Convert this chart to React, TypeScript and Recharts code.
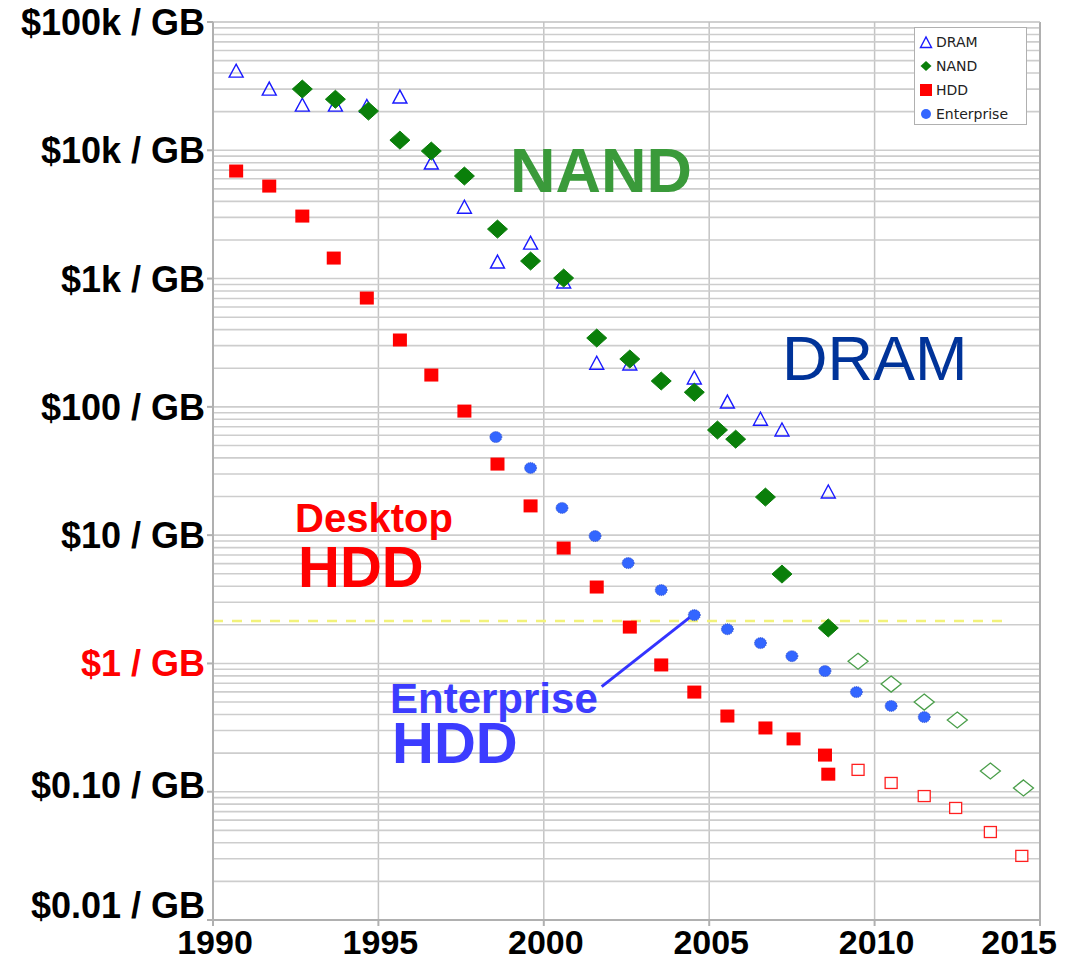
import React from "react";
import {
  ScatterChart,
  Scatter,
  XAxis,
  YAxis,
  CartesianGrid,
  ReferenceLine,
} from "recharts";

// price per GB
const dramYears = [1990.7, 1991.7, 1992.7, 1993.7, 1994.65, 1995.65, 1996.6, 1997.6, 1998.6, 1999.6, 2000.6, 2001.6, 2002.6, 2004.55, 2005.55, 2006.55, 2007.2, 2008.6];
const dramPrices = [41400, 30000, 22500, 22500, 22000, 26000, 7950, 3600, 1345, 1890, 940, 219, 216, 168, 109, 80, 66, 21.7];

const nandYears = [1992.7, 1993.7, 1994.7, 1995.65, 1996.6, 1997.6, 1998.6, 1999.6, 2000.6, 2001.6, 2002.6, 2003.55, 2004.55, 2005.25, 2005.8, 2006.7, 2007.2, 2008.6];
const nandPrices = [30000, 25000, 20200, 12000, 9860, 6300, 2430, 1370, 1010, 344, 236, 159, 130, 66, 56, 19.8, 4.97, 1.89];

const nandProjYears = [2009.5, 2010.5, 2011.5, 2012.5, 2013.5, 2014.5];
const nandProjPrices = [1.04, 0.69, 0.5, 0.362, 0.145, 0.107];

const hddYears = [1990.7, 1991.7, 1992.7, 1993.65, 1994.65, 1995.65, 1996.6, 1997.6, 1998.6, 1999.6, 2000.6, 2001.6, 2002.6, 2003.55, 2004.55, 2005.55, 2006.7, 2007.55, 2008.5, 2008.6];
const hddPrices = [6890, 5260, 3070, 1445, 705, 332, 177, 92.7, 35.8, 16.9, 7.93, 3.94, 1.92, 0.973, 0.598, 0.389, 0.314, 0.258, 0.193, 0.137];

const hddProjYears = [2009.5, 2010.5, 2011.5, 2012.45, 2013.5, 2014.45];
const hddProjPrices = [0.148, 0.117, 0.0925, 0.0747, 0.0485, 0.0316];

const entYears = [1998.55, 1999.6, 2000.55, 2001.55, 2002.55, 2003.55, 2004.55, 2005.55, 2006.55, 2007.5, 2008.5, 2009.45, 2010.5, 2011.5];
const entPrices = [58.2, 33.4, 16.3, 9.84, 6.06, 3.73, 2.38, 1.85, 1.44, 1.14, 0.873, 0.598, 0.466, 0.382];

const xTicks = [1990, 1995, 2000, 2005, 2010, 2015];
const yTicks = [0.01, 0.1, 1, 10, 100, 1000, 10000, 100000];
const yLabels = ["$0.01 / GB", "$0.10 / GB", "$1 / GB", "$10 / GB", "$100 / GB", "$1k / GB", "$10k / GB", "$100k / GB"];
// the two lowest labels sit a little above their ticks in the original
const yLabelShift = [-15, -7, 0, 0, 0, 0, 0, 0];

const oneDollarLine = 2.14;

const legendItems = [
  { name: "DRAM", kind: "tri" },
  { name: "NAND", kind: "dia" },
  { name: "HDD", kind: "sq" },
  { name: "Enterprise", kind: "dot" },
];

const toPoints = (xs: number[], ys: number[]) => xs.map((year, i) => ({ year, price: ys[i] }));

// log grid: 1..9 x each decade
const gridValues: number[] = [];
for (let d = -2; d <= 4; d++) {
  for (let k = 1; k <= 9; k++) gridValues.push(Number((k * Math.pow(10, d)).toPrecision(3)));
}

const FONT = "'Liberation Sans', Arial, sans-serif";

const Triangle = (p: any) => (
  <polygon
    points={`${p.cx - 7},${p.cy + 6} ${p.cx + 7},${p.cy + 6} ${p.cx},${p.cy - 7}`}
    fill="none"
    stroke="#1a1aff"
    strokeWidth={1.4}
  />
);

const Diamond = (p: any) => (
  <polygon
    points={`${p.cx},${p.cy - 9} ${p.cx + 10},${p.cy} ${p.cx},${p.cy + 9} ${p.cx - 10},${p.cy}`}
    fill="#0a7f0a"
    stroke="#0a7f0a"
  />
);

const OpenDiamond = (p: any) => (
  <polygon
    points={`${p.cx},${p.cy - 8} ${p.cx + 10},${p.cy} ${p.cx},${p.cy + 8} ${p.cx - 10},${p.cy}`}
    fill="#fff"
    stroke="#4a9e4a"
    strokeWidth={1.3}
  />
);

const Square = (p: any) => (
  <rect x={p.cx - 7} y={p.cy - 6.5} width={14} height={13} fill="#ff0000" />
);

const OpenSquare = (p: any) => (
  <rect x={p.cx - 6} y={p.cy - 5.5} width={12} height={11} fill="#fff" stroke="#ff2020" strokeWidth={1.3} />
);

const Dot = (p: any) => (
  <ellipse cx={p.cx} cy={p.cy} rx={6} ry={5.5} fill="#3366ff" stroke="#2040c0" strokeWidth={0.8} strokeDasharray="1 1" />
);

const YTick = ({ x, y, payload }: any) => {
  const i = yTicks.indexOf(payload.value);
  return (
    <text
      x={x}
      y={y + yLabelShift[i]}
      dy={13}
      textAnchor="end"
      fontFamily={FONT}
      fontWeight="bold"
      fontSize={36}
      fill={payload.value === 1 ? "#ff0000" : "#000"}
    >
      {yLabels[i]}
    </text>
  );
};

const XTick = ({ x, y, payload }: any) => {
  const last = payload.value === 2015;
  return (
    <text
      x={last ? x + 17 : x + 2}
      y={y}
      dy={26}
      textAnchor={last ? "end" : "middle"}
      fontFamily={FONT}
      fontWeight="bold"
      fontSize={34}
      fill="#000"
    >
      {payload.value}
    </text>
  );
};

const LegendIcon = ({ kind }: { kind: string }) => (
  <svg width={14} height={14} style={{ marginRight: 3 }}>
    {kind === "tri" && <polygon points="1.5,12.5 12.5,12.5 7,2" fill="none" stroke="#1a1aff" strokeWidth={1.4} />}
    {kind === "dia" && <polygon points="7,2 12.5,7 7,12 1.5,7" fill="#0a7f0a" />}
    {kind === "sq" && <rect x={1} y={1} width={12} height={12} fill="#ff0000" />}
    {kind === "dot" && <circle cx={7} cy={7} r={5} fill="#3366ff" />}
  </svg>
);

export default function App() {
  return (
    <div style={{ position: "absolute", left: 0, top: 0, width: 1073, height: 961, background: "#fff" }}>
      <ScatterChart width={1073} height={961} margin={{ top: 22, right: 33, left: 0, bottom: 0 }}>
        <CartesianGrid stroke="#c4c4c4" strokeWidth={1.5} horizontal={false} verticalValues={xTicks} />
        {gridValues.map((v) => (
          <ReferenceLine key={v} y={v} stroke="#cdcdcd" strokeWidth={1.6} />
        ))}
        <XAxis
          dataKey="year"
          type="number"
          domain={[1990, 2015]}
          ticks={xTicks}
          height={41}
          stroke="#b0b0b0"
          strokeWidth={2}
          tick={<XTick />}
          tickLine={{ stroke: "#b0b0b0" }}
        />
        <YAxis
          dataKey="price"
          type="number"
          scale="log"
          domain={[0.01, 100000]}
          ticks={yTicks}
          width={213}
          stroke="#b0b0b0"
          strokeWidth={2}
          tick={<YTick />}
          tickLine={{ stroke: "#b0b0b0" }}
          allowDataOverflow
        />
        <ReferenceLine x={2015} stroke="#b0b0b0" strokeWidth={2} />
        <ReferenceLine y={100000} stroke="#c0c0c0" strokeWidth={1.6} />
        <ReferenceLine
          segment={[{ x: 1990, y: oneDollarLine }, { x: 2013.9, y: oneDollarLine }]}
          stroke="#f2f27a"
          strokeWidth={2.5}
          strokeDasharray="10 9"
        />
        <ReferenceLine
          segment={[{ x: 2001.75, y: 0.66 }, { x: 2004.5, y: 2.38 }]}
          stroke="#3333ff"
          strokeWidth={3}
        />
        <Scatter data={toPoints(hddProjYears, hddProjPrices)} shape={<OpenSquare />} isAnimationActive={false} />
        <Scatter data={toPoints(nandProjYears, nandProjPrices)} shape={<OpenDiamond />} isAnimationActive={false} />
        <Scatter name="HDD" data={toPoints(hddYears, hddPrices)} shape={<Square />} isAnimationActive={false} />
        <Scatter name="Enterprise" data={toPoints(entYears, entPrices)} shape={<Dot />} isAnimationActive={false} />
        <Scatter name="DRAM" data={toPoints(dramYears, dramPrices)} shape={<Triangle />} isAnimationActive={false} />
        <Scatter name="NAND" data={toPoints(nandYears, nandPrices)} shape={<Diamond />} isAnimationActive={false} />
      </ScatterChart>

      <svg
        width={1073}
        height={961}
        style={{ position: "absolute", left: 0, top: 0, pointerEvents: "none" }}
        fontFamily={FONT}
      >
        <text x={510} y={192} fontSize={63} fontWeight="bold" fill="#3a9a3a">NAND</text>
        <text x={782} y={380} fontSize={63} fill="#003399">DRAM</text>
        <text x={295} y={532} fontSize={40} fontWeight="bold" fill="#ff0000">Desktop</text>
        <text x={298} y={587} fontSize={58} fontWeight="bold" fill="#ff0000">HDD</text>
        <text x={390} y={713} fontSize={42} fontWeight="bold" fill="#3c3cff">Enterprise</text>
        <text x={392} y={763} fontSize={58} fontWeight="bold" fill="#3c3cff">HDD</text>
      </svg>

      <div
        style={{
          position: "absolute",
          left: 914,
          top: 27,
          width: 113,
          height: 98,
          background: "#fff",
          border: "1px solid #b0b0b0",
          fontFamily: "'DejaVu Sans', Verdana, sans-serif",
          fontSize: 14,
          color: "#222",
          padding: "2px 0 0 4px",
          boxSizing: "border-box",
        }}
      >
        {legendItems.map((it) => (
          <div key={it.name} style={{ display: "flex", alignItems: "center", height: 24 }}>
            <LegendIcon kind={it.kind} />
            <span>{it.name}</span>
          </div>
        ))}
      </div>
    </div>
  );
}
